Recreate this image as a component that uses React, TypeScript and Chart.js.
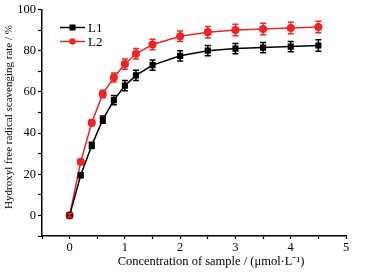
import React, { useEffect, useRef } from "react";
import { Chart, registerables } from "chart.js";

Chart.register(...registerables);

const concentrations = [0, 0.2, 0.4, 0.6, 0.8, 1.0, 1.2, 1.5, 2, 2.5, 3, 3.5, 4, 4.5];
const l1Values = [0, 19.5, 34, 46.5, 56, 63, 68, 73, 77.5, 80, 81, 81.5, 82, 82.5];
const l1Errors = [0.8, 1.2, 1.5, 1.8, 2.2, 2.5, 2.5, 2.5, 2.5, 2.5, 2.5, 2.5, 2.5, 2.8];
const l2Values = [0, 26, 45, 59, 67, 73.5, 78.5, 83, 87, 89, 90, 90.5, 91, 91.5];
const l2Errors = [0.8, 1.2, 1.5, 1.8, 2.2, 2.5, 2.5, 2.5, 2.5, 2.8, 2.8, 2.8, 2.8, 2.8];
const seriesNames = ["L1", "L2"];
const seriesColors = ["#000000", "#ee2424"];
const xTickLabels = [0, 1, 2, 3, 4, 5];
const yTickLabels = [0, 20, 40, 60, 80, 100];
const xTitle = "Concentration of sample / (\u03bcmol\u00b7L\u207b\u00b9)";
const yTitle = "Hydroxyl free radical scavenging rate / %";

const FONT = "'Liberation Serif', 'Times New Roman', serif";

const errorBarPlugin = {
  id: "errorBars",
  afterDatasetsDraw(chart: any) {
    const ctx = chart.ctx;
    const xs = chart.scales.x;
    const ys = chart.scales.y;
    const errs = [l1Errors, l2Errors];
    chart.data.datasets.forEach((ds: any, di: number) => {
      ctx.save();
      ctx.strokeStyle = ds.borderColor;
      ctx.lineWidth = 1.5;
      ds.data.forEach((p: any, i: number) => {
        const e = errs[di][i];
        const x = xs.getPixelForValue(p.x);
        const y1 = ys.getPixelForValue(p.y + e);
        const y2 = ys.getPixelForValue(p.y - e);
        ctx.beginPath();
        ctx.moveTo(x, y1);
        ctx.lineTo(x, y2);
        ctx.moveTo(x - 3, y1);
        ctx.lineTo(x + 3, y1);
        ctx.moveTo(x - 3, y2);
        ctx.lineTo(x + 3, y2);
        ctx.stroke();
      });
      ctx.restore();
    });
  },
};

const legendPlugin = {
  id: "innerLegend",
  afterDraw(chart: any) {
    const ctx = chart.ctx;
    const area = chart.chartArea;
    ctx.save();
    chart.data.datasets.forEach((ds: any, i: number) => {
      const y = area.top + 18 + i * 14;
      const x0 = area.left + 18;
      const x1 = x0 + 25;
      ctx.strokeStyle = ds.borderColor;
      ctx.fillStyle = ds.borderColor;
      ctx.lineWidth = 1.5;
      ctx.beginPath();
      ctx.moveTo(x0, y);
      ctx.lineTo(x1, y);
      ctx.stroke();
      const cx = (x0 + x1) / 2;
      if (i === 0) {
        ctx.fillRect(cx - 3, y - 3, 6, 6);
      } else {
        ctx.beginPath();
        ctx.arc(cx, y, 3.2, 0, Math.PI * 2);
        ctx.fill();
      }
      ctx.fillStyle = "#000";
      ctx.font = `13px ${FONT}`;
      ctx.textBaseline = "middle";
      ctx.textAlign = "left";
      ctx.fillText(seriesNames[i], x1 + 3, y + 1);
    });
    // axis titles
    ctx.fillStyle = "#000";
    ctx.textAlign = "center";
    ctx.textBaseline = "middle";
    ctx.font = `12.5px ${FONT}`;
    ctx.fillText(xTitle, 211, 262);
    ctx.translate(9, 117);
    ctx.rotate(-Math.PI / 2);
    ctx.font = `11px ${FONT}`;
    ctx.fillText(yTitle, 0, 0);
    ctx.restore();
  },
};

export default function App() {
  const ref = useRef<HTMLCanvasElement>(null);
  useEffect(() => {
    document.body.style.margin = "0";
    const makeData = (vals: number[]) => vals.map((v, i) => ({ x: concentrations[i], y: v }));
    const chart = new Chart(ref.current!, {
      type: "line",
      data: {
        datasets: [
          {
            label: seriesNames[0],
            data: makeData(l1Values),
            borderColor: seriesColors[0],
            backgroundColor: seriesColors[0],
            pointStyle: "rect",
            pointRadius: 3.3,
            borderWidth: 1.5,
            tension: 0,
          },
          {
            label: seriesNames[1],
            data: makeData(l2Values),
            borderColor: seriesColors[1],
            backgroundColor: seriesColors[1],
            pointStyle: "circle",
            pointRadius: 3.3,
            borderWidth: 1.5,
            tension: 0,
          },
        ],
      },
      options: {
        animation: false,
        responsive: false,
        layout: { padding: { top: 8, right: 23, left: 0, bottom: 0 } },
        plugins: { legend: { display: false }, tooltip: { enabled: false } },
        scales: {
          x: {
            type: "linear",
            min: -0.5,
            max: 5,
            afterFit: (s: any) => {
              s.height = 38;
            },
            ticks: {
              stepSize: 0.5,
              color: "#000",
              font: { family: FONT, size: 12.5 },
              padding: 1,
              maxRotation: 0,
              autoSkip: false,
              callback: (v: any) => (xTickLabels.includes(Number(v)) ? String(v) : ""),
            },
            grid: {
              drawOnChartArea: false,
              tickLength: 3,
              tickColor: "#000",
              tickWidth: 1.2,
            },
            border: { color: "#000", width: 1.5 },
          },
          y: {
            min: -10,
            max: 100,
            afterFit: (s: any) => {
              s.width = 42;
            },
            ticks: {
              stepSize: 10,
              color: "#000",
              font: { family: FONT, size: 12.5 },
              padding: 2,
              autoSkip: false,
              callback: (v: any) => (yTickLabels.includes(Number(v)) ? String(v) : ""),
            },
            grid: {
              drawOnChartArea: false,
              tickLength: 4,
              tickColor: "#000",
              tickWidth: 1.2,
            },
            border: { color: "#000", width: 1.5 },
          },
        },
      },
      plugins: [errorBarPlugin, legendPlugin],
    } as any);
    return () => chart.destroy();
  }, []);
  return <canvas ref={ref} width={369} height={274} style={{ display: "block" }} />;
}
